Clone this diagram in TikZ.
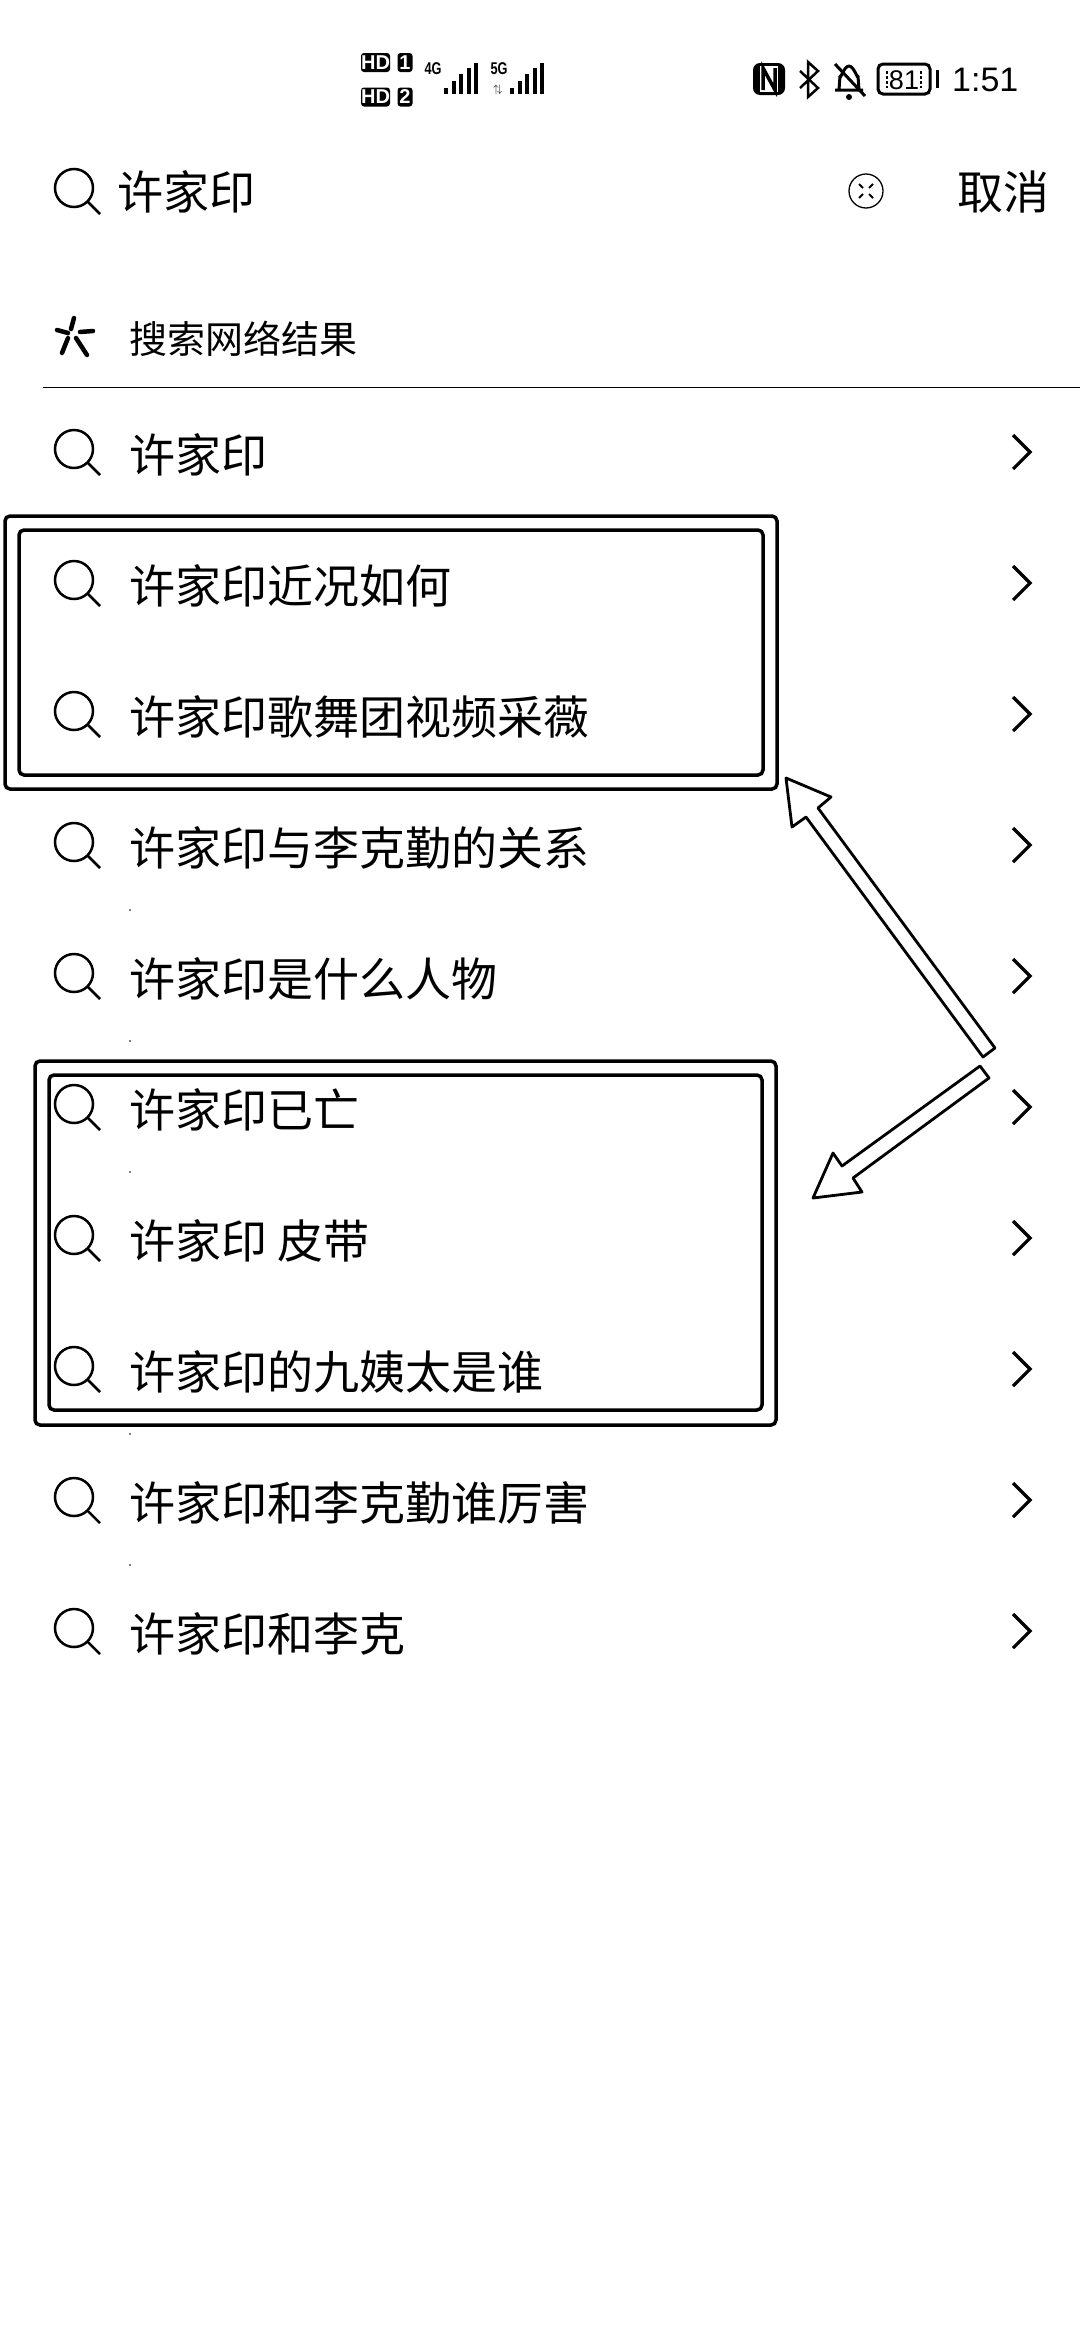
\documentclass[tikz,border=0pt]{standalone}
\usepackage{xcolor}
\usepackage{fontspec}
\setmainfont{Liberation Sans}
\newfontfamily\cjk{Noto Sans CJK SC}
\usepackage{tikz}
\usetikzlibrary{positioning}
\begin{document}
\begin{tikzpicture}[x=1pt, y=-1pt, node distance={131pt},
  item/.style = {anchor=west, inner sep=0pt, font=\cjk\fontsize{46}{46}\selectfont},
  head/.style = {anchor=west, inner sep=0pt, font=\cjk\fontsize{38}{38}\selectfont},
  badge/.style = {fill=black, rounded corners=3pt, text=white, inner sep=0pt, font=\bfseries\fontsize{20}{20}\selectfont},
  tiny/.style = {inner sep=0pt, xscale=.75, font=\bfseries\fontsize{17}{17}\selectfont},
  frame/.style = {draw, line width=3.5pt, rounded corners=5pt},
  callout/.style = {draw, line width=2.8pt, line join=round, fill=white},
  lens/.pic = {\draw[line width=2.5pt] (0,0) circle [radius=19pt]; \draw[line width=2.5pt] (13.5,13.5) -- (26,26);},
  chev/.pic = {\draw[line width=3.2pt] (-9,-17) -- (8,0) -- (-9,17);},
  bars/.pic = {\foreach \k/\h in {0/6, 1/13, 2/20, 3/26, 4/31} \fill (7.5*\k,0) rectangle (7.5*\k+4,-\h);}]
\useasboundingbox (0,0) rectangle (1080,2340);
\fill[white] (0,0) rectangle (1080,2340);

\node[badge, minimum width=29pt, minimum height=19pt] (hd1) at (375.5,62.5) {HD};
\node[badge, minimum width=15pt, minimum height=19pt] (sim1) at (405,62.5) {1};
\node[badge, minimum width=29pt, minimum height=19pt] (hd2) at (375.5,97) {HD};
\node[badge, minimum width=15pt, minimum height=19pt] (sim2) at (405,97) {2};
\node[tiny] (g4) at (433,69) {4G};
\node[tiny] (g5) at (499,69) {5G};
\node[inner sep=0pt, font=\fontsize{11}{11}\selectfont] (updown) at (498,90) {$\uparrow\!\downarrow$};
\pic at (444,94) {bars};
\pic at (510,94) {bars};

\fill[rounded corners=7pt] (753,63) rectangle (785,95);
\fill[white] (760,66) rectangle (778,92);
\draw[line width=3.5pt] (763,90) -- (763,68) -- (775,90) -- (775,68);
\draw[line width=2.5pt, line join=miter] (800,71) -- (818,88) -- (808,97) -- (808,62) -- (818,71) -- (800,88);
\draw[line width=3pt, line join=round] (835,90) -- (863,90) (839,90) -- (840,76) to[out=-90, in=180] (849,66) to[out=0, in=-90] (858,76) -- (859,90);
\fill (849,97) circle [radius=3pt];
\draw[line width=3pt] (835,64) -- (865,96);
\draw[line width=3pt, rounded corners=5pt] (878,64) rectangle (930,94);
\node[inner sep=0pt, font=\fontsize{27}{27}\selectfont] (batt) at (904,80) {81};
\draw[line width=1.5pt, dashed, dash pattern=on 3pt off 2pt] (887,71) -- (887,88) (921,71) -- (921,88);
\fill (936,70) rectangle (938.5,88);
\node[anchor=west, inner sep=0pt, font=\fontsize{34}{34}\selectfont] (clock) at (952,80) {1:51};

\pic at (74,188) {lens};
\node[item] (query) at (117,192) {许家印};
\node[draw, circle, line width=1.3pt, minimum size=34pt, inner sep=0pt] (clear) at (866,191) {};
\draw[line width=2pt] (859,184) -- (863,188) (873,184) -- (869,188) (859,198) -- (863,194) (873,198) -- (869,194);
\node[item] (cancel) at (957,192) {取消};

\draw[line width=4.5pt, line cap=round] (74,318) -- (71,329) (57,330) -- (68,333) (80,332) -- (93,331) (68,338) -- (62,353) (76,338) -- (87,355);
\node[head] (title) at (129,339) {搜索网络结果};
\draw[line width=1pt] (43,387) -- (1080,387);

\node[item] (r1) at (129,455) {许家印};
\node[item] (r2) [below=of r1.west, anchor=west] {许家印近况如何};
\node[item] (r3) [below=of r2.west, anchor=west] {许家印歌舞团视频采薇};
\node[item] (r4) [below=of r3.west, anchor=west] {许家印与李克勤的关系};
\node[item] (r5) [below=of r4.west, anchor=west] {许家印是什么人物};
\node[item] (r6) [below=of r5.west, anchor=west] {许家印已亡};
\node[item] (r7) [below=of r6.west, anchor=west] {许家印 皮带};
\node[item] (r8) [below=of r7.west, anchor=west] {许家印的九姨太是谁};
\node[item] (r9) [below=of r8.west, anchor=west] {许家印和李克勤谁厉害};
\node[item] (r10) [below=of r9.west, anchor=west] {许家印和李克};
\foreach \i in {1,...,10} {
  \pic at ([xshift=-55pt, yshift=6pt]r\i.west) {lens};
  \pic at ([xshift=893pt, yshift=3pt]r\i.west) {chev};
}
\foreach \y in {910,1041,1172,1434,1565} \fill (130,\y) circle [radius=.8pt];

\draw[frame] (5,516) rectangle (777,789);
\draw[frame] (19,530) rectangle (763,775);
\draw[frame] (35,1061) rectangle (776,1425);
\draw[frame] (49,1075) rectangle (762,1410);

\draw[callout] (786,778) -- (831,797) -- (818,808) -- (995,1048) -- (983,1057) -- (806,817) -- (792,827) -- cycle;
\draw[callout] (980,1066) -- (989,1078) -- (853,1178) -- (862,1192) -- (813,1198) -- (833,1153) -- (842,1166) -- cycle;
\end{tikzpicture}
\end{document}
